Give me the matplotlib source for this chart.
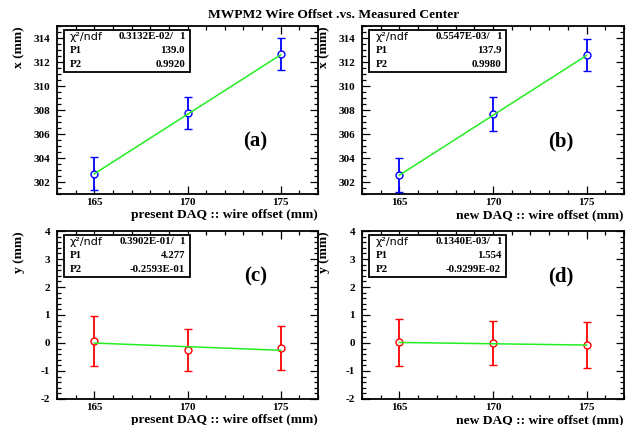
import matplotlib
matplotlib.use("Agg")
import matplotlib.pyplot as plt
from matplotlib.ticker import MultipleLocator
import numpy as np

# wire offsets (mm)
offsets = [165, 170, 175]

# measured centres and errors
x_present = [302.7, 307.75, 312.65]
x_present_err = [1.35, 1.3, 1.33]
x_new = [302.6, 307.65, 312.6]
x_new_err = [1.4, 1.42, 1.33]
y_present = [0.07, -0.25, -0.18]
y_present_err = [0.89, 0.74, 0.78]
y_new = [0.02, -0.01, -0.08]
y_new_err = [0.84, 0.79, 0.83]

# fit results printed in the stat boxes
fit_chi2 = ["0.3132E-02/", "0.5547E-03/", "0.3902E-01/", "0.1340E-03/"]
fit_p1 = [139.0, 137.9, 4.277, 1.554]
fit_p1_txt = ["139.0", "137.9", "4.277", "1.554"]
fit_p2 = [0.9920, 0.9980, -0.02593, -0.009299]
fit_p2_txt = ["0.9920", "0.9980", "-0.2593E-01", "-0.9299E-02"]

panel_tags = ["(a)", "(b)", "(c)", "(d)"]
xlabels = ["present DAQ :: wire offset (mm)", "new DAQ :: wire offset (mm)"] * 2
ylabels = ["x (mm)", "x (mm)", "y (mm)", "y (mm)"]

plt.rcParams["font.family"] = ["Liberation Serif", "DejaVu Serif"]
plt.rcParams["font.weight"] = "bold"
plt.rcParams["axes.unicode_minus"] = False

fig = plt.figure(figsize=(6.28, 4.25), dpi=100)
W, H = 628.0, 425.0

# axes boxes in pixels: left, top, right, bottom
boxes = [(57, 26, 318, 194), (362, 26, 624, 194),
         (57, 231, 318, 399), (362, 231, 624, 399)]

series = [(x_present, x_present_err, "blue"), (x_new, x_new_err, "blue"),
          (y_present, y_present_err, "red"), (y_new, y_new_err, "red")]

for i, (l, t, r, b) in enumerate(boxes):
    ax = fig.add_axes([l / W, 1 - b / H, (r - l) / W, (b - t) / H])
    vals, errs, col = series[i]
    aw, ah = float(r - l), float(b - t)

    ax.errorbar(offsets, vals, yerr=errs, fmt="o", mfc="white", mec=col,
                ecolor=col, ms=5, mew=1.0, elinewidth=1.3, capsize=3,
                capthick=1.3, zorder=3)
    xf = np.array([offsets[0], offsets[-1]])
    ax.plot(xf, fit_p1[i] + fit_p2[i] * xf, color="#22ee22", lw=1.1, zorder=4)

    ax.set_xlim(163, 177)
    ax.xaxis.set_major_locator(MultipleLocator(5))
    ax.xaxis.set_minor_locator(MultipleLocator(1))
    if i < 2:
        ax.set_ylim(301, 315)
        ax.yaxis.set_major_locator(MultipleLocator(2))
        ax.yaxis.set_minor_locator(MultipleLocator(0.5))
        tag_y = 0.31
    else:
        ax.set_ylim(-2, 4)
        ax.yaxis.set_major_locator(MultipleLocator(1))
        ax.yaxis.set_minor_locator(MultipleLocator(0.2))
        tag_y = 0.727

    ax.tick_params(which="both", direction="in", top=True, right=True,
                   labelsize=8, width=0.9)
    ax.tick_params(which="major", length=6)
    ax.tick_params(axis="x", which="major", pad=3)
    ax.tick_params(axis="y", which="major", pad=5)
    ax.tick_params(which="minor", length=3)
    for s in ax.spines.values():
        s.set_linewidth(1.3)

    ax.set_xlabel(xlabels[i], fontsize=9.7, fontweight="bold", loc="right")
    ax.xaxis.set_label_coords(1.0, -21 / ah)
    ax.xaxis.label.set_va("center")
    ax.set_ylabel(ylabels[i], fontsize=9.7, fontweight="bold", loc="top")
    ax.yaxis.set_label_coords(-38 / aw, 1.0)
    ax.yaxis.label.set_va("center")

    ax.text(0.76, tag_y, panel_tags[i], transform=ax.transAxes, fontsize=15,
            fontweight="bold", ha="center", va="center")

    # stat box
    bx0 = 0.025 if i % 2 == 0 else 0.027
    bx1 = 0.51 if i % 2 == 0 else 0.551
    by0, by1 = 0.728, 0.978
    ax.add_patch(plt.Rectangle((bx0, by0), bx1 - bx0, by1 - by0,
                               transform=ax.transAxes, fill=True, fc="white",
                               ec="black", lw=1.3, zorder=5))
    names = ["χ²/ndf", "P1", "P2"]
    right_vals = [fit_chi2[i], fit_p1_txt[i], fit_p2_txt[i]]
    for k in range(3):
        yy = by1 - (k + 0.5) * (by1 - by0) / 3
        if k == 0:
            ax.text(bx0 + 0.025, yy, names[k], transform=ax.transAxes,
                    fontsize=8, fontweight="normal", family="DejaVu Sans",
                    va="center", zorder=6)
            ax.text(bx1 - 0.062, yy, right_vals[k], transform=ax.transAxes,
                    fontsize=7.8, ha="right", va="center", zorder=6)
            ax.text(bx1 - 0.02, yy, "1", transform=ax.transAxes,
                    fontsize=7.8, ha="right", va="center", zorder=6)
        else:
            ax.text(bx0 + 0.025, yy, names[k], transform=ax.transAxes,
                    fontsize=7.8, va="center", zorder=6)
            ax.text(bx1 - 0.02, yy, right_vals[k], transform=ax.transAxes,
                    fontsize=7.8, ha="right", va="center", zorder=6)

fig.text(334 / W, 1 - 15 / H, "MWPM2 Wire Offset .vs. Measured Center",
         fontsize=9.7, fontweight="bold", ha="center", va="center")

fig.savefig("out.png", dpi=100)
